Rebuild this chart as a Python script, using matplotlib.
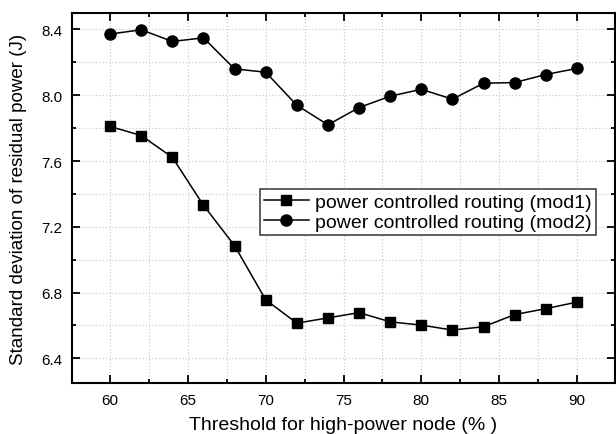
import matplotlib.pyplot as plt
from matplotlib.ticker import MultipleLocator

plt.rcParams['font.family'] = ['Liberation Sans', 'DejaVu Sans']

# threshold values (%)
threshold = [60, 62, 64, 66, 68, 70, 72, 74, 76, 78, 80, 82, 84, 86, 88, 90]

# standard deviation of residual power (J)
mod1 = [7.81, 7.755, 7.622, 7.331, 7.085, 6.756, 6.614, 6.646, 6.678, 6.622,
        6.602, 6.572, 6.592, 6.666, 6.702, 6.742]
mod2 = [8.372, 8.398, 8.327, 8.349, 8.16, 8.14, 7.939, 7.82, 7.925, 7.994,
        8.036, 7.976, 8.073, 8.077, 8.126, 8.163]

fig = plt.figure(figsize=(6.16, 4.35), dpi=100)
ax = fig.add_axes([72 / 616, 1 - 384 / 435, (615 - 72) / 616, (384 - 14) / 435])

ax.plot(threshold, mod1, '-', color='black', lw=1.1, marker='s', ms=7,
        label='power controlled routing (mod1)')
ax.plot(threshold, mod2, '-', color='black', lw=1.1, marker='o', ms=8,
        label='power controlled routing (mod2)')

ax.set_xlim(57.55, 92.45)
ax.set_ylim(6.25, 8.5)
ax.xaxis.set_major_locator(MultipleLocator(5))
ax.xaxis.set_minor_locator(MultipleLocator(2.5))
ax.yaxis.set_major_locator(MultipleLocator(0.4))
ax.yaxis.set_minor_locator(MultipleLocator(0.2))
ax.yaxis.set_major_formatter(plt.FormatStrFormatter('%.1f'))

ax.tick_params(which='both', direction='in', top=True, right=True, width=1.3)
ax.tick_params(which='major', length=6, labelsize=11)
ax.tick_params(which='minor', length=3)
ax.tick_params(axis='y', which='major', pad=7)
ax.tick_params(axis='x', which='major', pad=7)
ax.grid(True, which='both', ls=(0, (1, 2)), color='#c4c4c4', lw=0.8)
for s in ax.spines.values():
    s.set_linewidth(1.5)

ax.set_xlabel('Threshold for high-power node (% )', fontsize=14, labelpad=7)
ax.set_ylabel('Standard deviation of residual power (J)', fontsize=13.5, labelpad=10)

leg = ax.legend(loc='lower right', bbox_to_anchor=(0.965, 0.40), fontsize=14,
                fancybox=False, edgecolor='#444444', framealpha=1,
                handlelength=2.3, borderpad=0.2, labelspacing=0.15,
                handletextpad=0.35, borderaxespad=0)
leg.get_frame().set_linewidth(1.2)

fig.savefig('out.png', dpi=100)
